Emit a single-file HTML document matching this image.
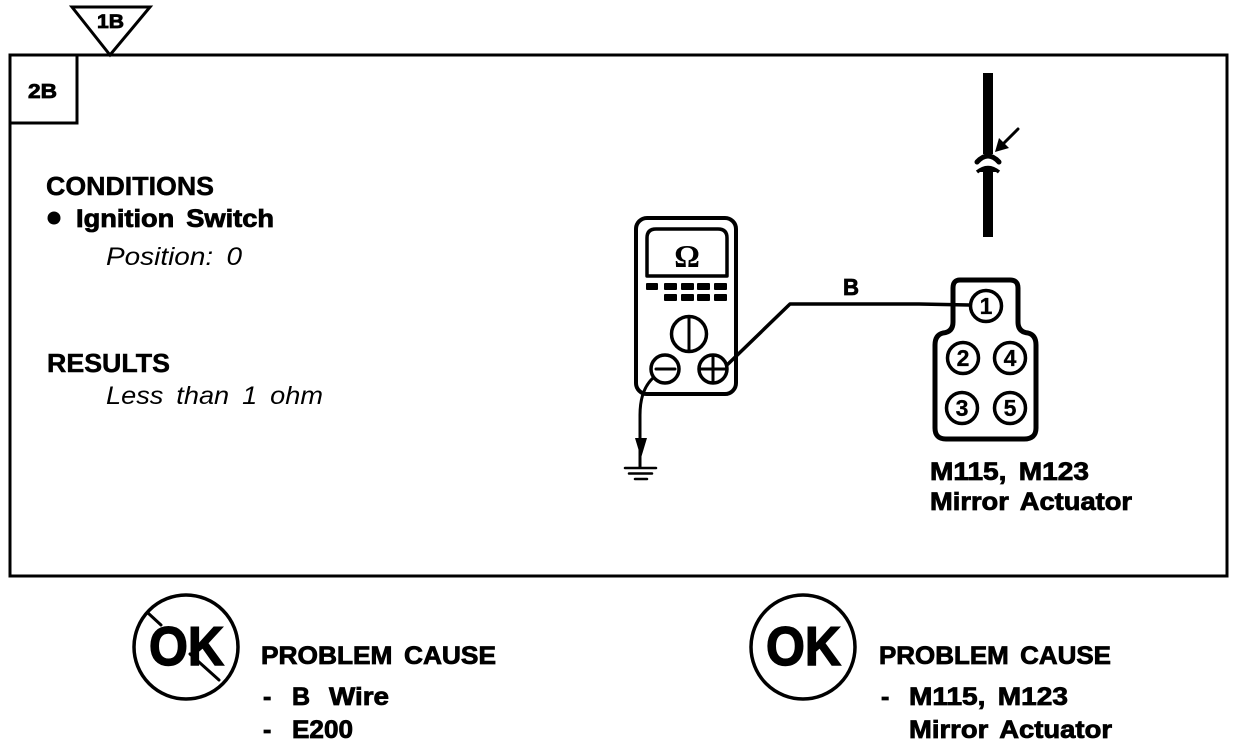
<!DOCTYPE html>
<html><head><meta charset="utf-8"><style>
html,body{margin:0;padding:0;background:#fff}
svg{display:block}
text{font-family:"Liberation Sans",Arial,sans-serif;fill:#000}
.b{font-weight:bold;font-size:25px;stroke:#000;stroke-width:.8px;word-spacing:4px}
.i{font-style:italic;font-size:25px;word-spacing:5px}
.n{font-weight:bold;font-size:23px;text-anchor:middle;stroke:#000;stroke-width:.3px}
.l{fill:none;stroke:#000;stroke-linecap:round;stroke-linejoin:round}
</style></head><body>
<svg width="1248" height="746" viewBox="0 0 1248 746" xmlns="http://www.w3.org/2000/svg">
<rect x="10" y="55" width="1217" height="521" fill="none" stroke="#000" stroke-width="3"/>
<rect x="10" y="55" width="67" height="68" fill="none" stroke="#000" stroke-width="3"/>
<polygon points="72,7 150,7 110,55" fill="#fff" stroke="#000" stroke-width="3"/>
<text class="b" x="97" y="28" style="font-size:19px" textLength="27" lengthAdjust="spacingAndGlyphs">1B</text>
<text class="b" x="28" y="98" style="font-size:20px" textLength="29" lengthAdjust="spacingAndGlyphs">2B</text>

<text class="b" x="46" y="195" style="font-size:26px;stroke-width:.5px" textLength="168" lengthAdjust="spacingAndGlyphs">CONDITIONS</text>
<circle cx="54" cy="218" r="6.500" fill="#000"/>
<text class="b" x="76" y="227" textLength="198" lengthAdjust="spacingAndGlyphs">Ignition Switch</text>
<text class="i" x="106" y="265" textLength="136" lengthAdjust="spacingAndGlyphs">Position: 0</text>
<text class="b" x="47" y="372" style="font-size:26px;stroke-width:.5px" textLength="123" lengthAdjust="spacingAndGlyphs">RESULTS</text>
<text class="i" x="106" y="404" textLength="217" lengthAdjust="spacingAndGlyphs">Less than 1 ohm</text>

<!-- meter -->
<rect x="636" y="218" width="100" height="176" rx="11" class="l" stroke-width="4"/>
<path d="M647 276V238Q647 229 656 229H718Q727 229 727 238V276Z" class="l" stroke-width="3.500"/>
<text x="687" y="267" text-anchor="middle" style="font-family:'Liberation Serif',serif;font-size:32px;font-weight:bold">Ω</text>
<g fill="#000">
<rect x="646" y="283" width="12" height="7" rx="1"/><rect x="664" y="283" width="13" height="7" rx="1"/><rect x="681" y="283" width="13" height="7" rx="1"/><rect x="697" y="283" width="13" height="7" rx="1"/><rect x="714" y="283" width="13" height="7" rx="1"/>
<rect x="664" y="294" width="13" height="7" rx="1"/><rect x="681" y="294" width="13" height="7" rx="1"/><rect x="697" y="294" width="13" height="7" rx="1"/><rect x="714" y="294" width="13" height="7" rx="1"/>
</g>
<circle cx="689" cy="334" r="17.500" class="l" stroke-width="3.500"/>
<path d="M689 317V351" class="l" stroke-width="3"/>
<circle cx="665" cy="369" r="14" fill="#fff" stroke="#000" stroke-width="3.500"/>
<path d="M656 369H675" class="l" stroke-width="3"/>
<circle cx="713" cy="369" r="14" fill="#fff" stroke="#000" stroke-width="3.500"/>
<path d="M713 355V383M699 369H727" class="l" stroke-width="3"/>
<path d="M727 365L790 304H919L969 305" class="l" stroke-width="3.500"/>
<text class="b" x="843" y="295" textLength="16" lengthAdjust="spacingAndGlyphs" style="font-size:23px">B</text>
<path d="M653 378Q640 390 640 415L640 467" class="l" stroke-width="3"/>
<polygon points="635,438 647,438 641,458" fill="#000"/>
<path d="M625 468H656M629 473.500H652M635 479H647" class="l" stroke-width="2.500"/>

<!-- top wire -->
<rect x="983" y="73" width="10" height="81" fill="#000"/>
<rect x="983" y="170" width="10" height="67" fill="#000"/>
<path d="M977 162Q988 150 999 162" class="l" stroke-width="5"/>
<path d="M977 172Q988 163 999 172" fill="#000" stroke="#000" stroke-width="3.500" stroke-linejoin="round"/>
<path d="M1018 129L1002 145" class="l" stroke-width="3"/>
<polygon points="995,152 999,138 1009,148" fill="#000"/>

<!-- connector -->
<path d="M960 280H1010Q1018 280 1018 288V322Q1018 332 1028 333Q1036 335 1036 345V428Q1036 439 1024 439H946Q935 439 935 428V345Q935 335 943 333Q953 332 953 322V288Q953 280 960 280Z" class="l" stroke-width="5"/>
<circle cx="986" cy="306" r="15.500" fill="#fff" stroke="#000" stroke-width="3.500"/>
<circle cx="963" cy="358" r="15.500" class="l" stroke-width="3.500"/>
<circle cx="1010" cy="358" r="15.500" class="l" stroke-width="3.500"/>
<circle cx="962" cy="408" r="15.500" class="l" stroke-width="3.500"/>
<circle cx="1010" cy="408" r="15.500" class="l" stroke-width="3.500"/>
<text class="n" x="986" y="314">1</text>
<text class="n" x="963" y="366">2</text>
<text class="n" x="1010" y="366">4</text>
<text class="n" x="962" y="416">3</text>
<text class="n" x="1010" y="416">5</text>
<text class="b" x="930" y="480" textLength="159" lengthAdjust="spacingAndGlyphs">M115, M123</text>
<text class="b" x="930" y="510" textLength="202" lengthAdjust="spacingAndGlyphs">Mirror Actuator</text>

<!-- bottom left -->
<circle cx="186" cy="647" r="52" class="l" stroke-width="3.500"/>
<path d="M148 613L161 625M190 654L219 680" class="l" stroke-width="3"/>
<text x="149" y="665" textLength="75" lengthAdjust="spacingAndGlyphs" style="font-size:55px;font-weight:bold;stroke:#000;stroke-width:1.500px">OK</text>
<text class="b" x="261" y="664" textLength="235" lengthAdjust="spacingAndGlyphs">PROBLEM CAUSE</text>
<text class="b" x="263" y="705">-</text>
<text class="b" x="292" y="705">B</text>
<text class="b" x="329" y="705" textLength="60" lengthAdjust="spacingAndGlyphs">Wire</text>
<text class="b" x="263" y="738">-</text>
<text class="b" x="292" y="738" textLength="61" lengthAdjust="spacingAndGlyphs">E200</text>

<!-- bottom right -->
<circle cx="803" cy="647" r="52" class="l" stroke-width="3.500"/>
<text x="766" y="665" textLength="75" lengthAdjust="spacingAndGlyphs" style="font-size:55px;font-weight:bold;stroke:#000;stroke-width:1.500px">OK</text>
<text class="b" x="879" y="664" textLength="232" lengthAdjust="spacingAndGlyphs">PROBLEM CAUSE</text>
<text class="b" x="881" y="705">-</text>
<text class="b" x="909" y="705" textLength="159" lengthAdjust="spacingAndGlyphs">M115, M123</text>
<text class="b" x="909" y="738" textLength="203" lengthAdjust="spacingAndGlyphs">Mirror Actuator</text>
</svg>
</body></html>
